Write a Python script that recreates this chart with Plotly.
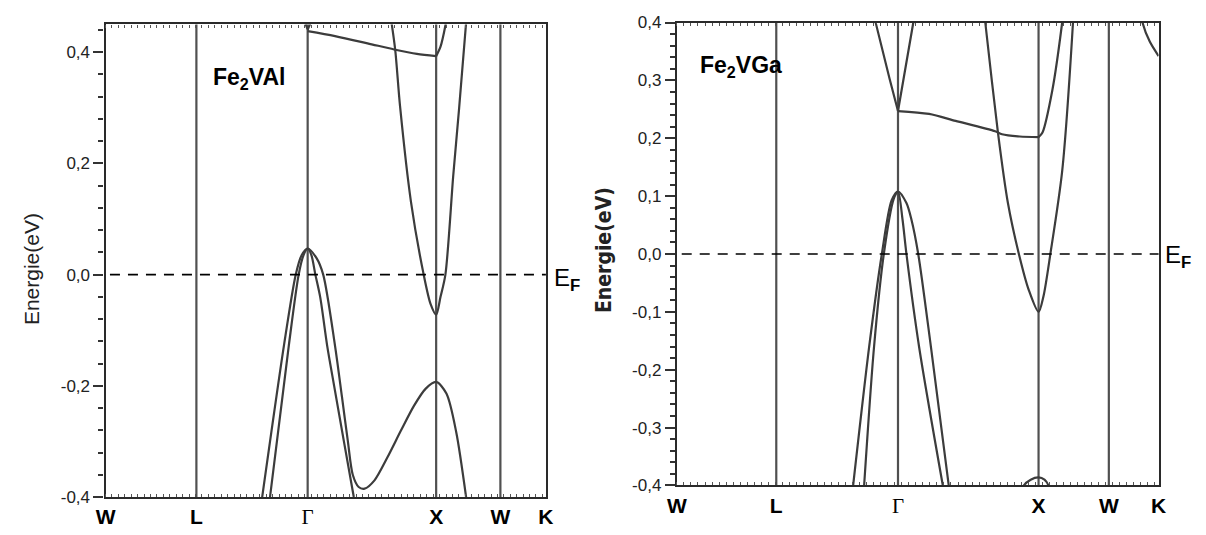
import plotly.graph_objects as go

# ---------------- k-path (high-symmetry points) ----------------
K_TICKS = [0.0, 0.707, 1.573, 2.573, 3.073, 3.427]
K_LABELS = ["<b>W</b>", "<b>L</b>",
            "<span style='font-family:Liberation Serif, Times New Roman, serif;font-weight:normal'>Γ</span>",
            "<b>X</b>", "<b>W</b>", "<b>K</b>"]
VLINES = [0.707, 1.573, 2.573, 3.073]

# ---------------- Fe2VAl bands (k, E in eV) ----------------
AL_V1_K = [1.219, 1.388, 1.480, 1.526, 1.573, 1.641, 1.694, 1.786, 1.840, 1.886, 1.924,
           1.970, 2.016, 2.093, 2.193, 2.300, 2.400, 2.492, 2.573, 2.653, 2.729, 2.806]
AL_V1_E = [-0.40, -0.128, 0.0, 0.035, 0.047, 0.030, 0.0, -0.128, -0.22, -0.30, -0.36,
           -0.382, -0.385, -0.37, -0.329, -0.28, -0.236, -0.205, -0.193, -0.214, -0.283, -0.40]
AL_V2_K = [1.280, 1.426, 1.503, 1.541, 1.573, 1.602, 1.633, 1.671, 1.725, 1.779, 1.855, 1.932]
AL_V2_E = [-0.40, -0.128, 0.0, 0.035, 0.047, 0.035, 0.0, -0.041, -0.128, -0.20, -0.30, -0.40]
AL_C1_K = [2.215, 2.254, 2.292, 2.377, 2.476, 2.530, 2.573, 2.607, 2.645, 2.706, 2.752, 2.812]
AL_C1_E = [0.47, 0.405, 0.303, 0.131, 0.0, -0.053, -0.072, -0.04, 0.0, 0.178, 0.30, 0.47]
AL_C2_K = [1.573, 1.786, 2.039, 2.246, 2.423, 2.573]
AL_C2_E = [0.438, 0.429, 0.416, 0.405, 0.397, 0.393]
AL_C3_K = [2.573, 2.607, 2.645, 2.660]
AL_C3_E = [0.393, 0.41, 0.448, 0.47]
AL_C4_K = [1.541, 1.573, 1.610]
AL_C4_E = [0.46, 0.441, 0.46]

# ---------------- Fe2VGa bands (k, E in eV) ----------------
GA_V1_K = [1.254, 1.367, 1.458, 1.528, 1.573, 1.633, 1.668, 1.717, 1.808, 1.934]
GA_V1_E = [-0.40, -0.162, 0.0, 0.093, 0.108, 0.088, 0.06, 0.0, -0.162, -0.40]
GA_V2_K = [1.332, 1.402, 1.472, 1.542, 1.573, 1.605, 1.633, 1.724, 1.892]
GA_V2_E = [-0.40, -0.162, 0.0, 0.095, 0.108, 0.06, 0.0, -0.162, -0.40]
GA_C1_K = [1.409, 1.416, 1.514, 1.573, 1.682, 1.690]
GA_C1_E = [0.42, 0.398, 0.302, 0.247, 0.40, 0.42]
GA_C2_K = [1.573, 1.794, 1.983, 2.264, 2.313, 2.439, 2.573]
GA_C2_E = [0.247, 0.242, 0.230, 0.212, 0.207, 0.203, 0.202]
GA_C3_K = [2.573, 2.601, 2.671, 2.741, 2.750]
GA_C3_E = [0.202, 0.21, 0.283, 0.40, 0.42]
GA_C4_K = [2.185, 2.194, 2.285, 2.355, 2.433, 2.503, 2.573, 2.608, 2.657, 2.741, 2.818, 2.822]
GA_C4_E = [0.42, 0.40, 0.208, 0.088, 0.0, -0.062, -0.10, -0.073, 0.0, 0.143, 0.40, 0.42]
GA_V3_K = [2.450, 2.468, 2.517, 2.573, 2.615, 2.643, 2.650]
GA_V3_E = [-0.42, -0.40, -0.39, -0.386, -0.39, -0.40, -0.42]
GA_C5_K = [3.301, 3.315, 3.364, 3.427]
GA_C5_E = [0.42, 0.398, 0.367, 0.342]

AL_YTICKS = [-0.4, -0.2, 0.0, 0.2, 0.4]
AL_YTEXT = ["-0,4", "-0,2", "0,0", "0,2", "0,4"]
GA_YTICKS = [-0.4, -0.3, -0.2, -0.1, 0.0, 0.1, 0.2, 0.3, 0.4]
GA_YTEXT = ["-0,4", "-0,3", "-0,2", "-0,1", "0,0", "0,1", "0,2", "0,3", "0,4"]

BAND_COLOR = "#3c3c3c"
FONT = "Arial, Liberation Sans, sans-serif"

fig = go.Figure()

def band(k, e, xa, ya, shape="spline"):
    fig.add_trace(go.Scatter(x=k, y=e, mode="lines", xaxis=xa, yaxis=ya,
                             line=dict(color=BAND_COLOR, width=2.2, shape=shape, smoothing=0.8),
                             showlegend=False, hoverinfo="skip"))

band(AL_V1_K, AL_V1_E, "x", "y")
band(AL_V2_K, AL_V2_E, "x", "y")
band(AL_C1_K, AL_C1_E, "x", "y")
band(AL_C2_K, AL_C2_E, "x", "y")
band(AL_C3_K, AL_C3_E, "x", "y")
band(AL_C4_K, AL_C4_E, "x", "y", "linear")

band(GA_V1_K, GA_V1_E, "x2", "y2")
band(GA_V2_K, GA_V2_E, "x2", "y2")
band(GA_C1_K, GA_C1_E, "x2", "y2", "linear")
band(GA_C2_K, GA_C2_E, "x2", "y2")
band(GA_C3_K, GA_C3_E, "x2", "y2")
band(GA_C4_K, GA_C4_E, "x2", "y2")
band(GA_V3_K, GA_V3_E, "x2", "y2")
band(GA_C5_K, GA_C5_E, "x2", "y2")

shapes = []
for xr, yr in (("x", "y"), ("x2", "y2")):
    for kv in VLINES:
        shapes.append(dict(type="line", xref=xr, yref=yr + " domain", x0=kv, x1=kv, y0=0, y1=1,
                           line=dict(color="#505050", width=2.2), layer="below"))
    shapes.append(dict(type="line", xref=xr + " domain", yref=yr, x0=0.01, x1=1, y0=0, y1=0,
                       line=dict(color="black", width=1.6, dash="10px,8px")))
fig.update_layout(shapes=shapes)

xcommon = dict(range=[0, 3.427], tickmode="array", tickvals=K_TICKS, ticktext=K_LABELS,
               ticks="", showgrid=False, zeroline=False, showline=True, linecolor="#2a2a2a",
               linewidth=2.2, mirror="allticks",
               minor=dict(ticks="inside", dtick=0.05, tick0=0, ticklen=3, tickcolor="#555",
                          showgrid=False),
               tickfont=dict(family=FONT, size=21, color="black"))
ycommon = dict(tickmode="array", showgrid=False, zeroline=False, showline=True,
               linecolor="#2a2a2a", linewidth=2.2, mirror=True, ticks="outside", ticklen=10,
               tickwidth=1.6, tickcolor="#333",
               tickfont=dict(family=FONT, size=17, color="#222"))

fig.update_layout(
    width=1206, height=535, margin=dict(l=0, r=0, t=0, b=0),
    paper_bgcolor="white", plot_bgcolor="white",
    xaxis=dict(domain=[97 / 1206, 544 / 1206], anchor="y", **xcommon),
    yaxis=dict(domain=[29 / 535, 519 / 535], anchor="x", range=[-0.4, 0.45],
               tickvals=AL_YTICKS, ticktext=AL_YTEXT,
               minor=dict(ticks="outside", dtick=0.04, tick0=0, ticklen=5, tickcolor="#333",
                          showgrid=False),
               **ycommon),
    xaxis2=dict(domain=[677 / 1206, 1166 / 1206], anchor="y2", **xcommon),
    yaxis2=dict(domain=[41 / 535, 521 / 535], anchor="x2", range=[-0.4, 0.4],
                tickvals=GA_YTICKS, ticktext=GA_YTEXT,
                minor=dict(ticks="outside", dtick=0.02, tick0=0, ticklen=5, tickcolor="#333",
                           showgrid=False),
                **ycommon),
)

ann = [
    dict(text="Energie(eV)", x=22 / 1206, y=(535 - 270) / 535, textangle=-90,
         font=dict(family=FONT, size=21, color="#222")),
    dict(text="<b>Energie(eV)</b>", x=603 / 1206, y=(535 - 250) / 535, textangle=-90,
         font=dict(family="Liberation Sans Narrow, DejaVu Sans Condensed, Arial Narrow, sans-serif",
                   size=21, color="#222")),
    dict(text="<b>Fe<sub>2</sub>VAl</b>", x=243 / 1206, y=(535 - 55) / 535,
         font=dict(family=FONT, size=23, color="black")),
    dict(text="<b>Fe<sub>2</sub>VGa</b>", x=742 / 1206, y=(535 - 42) / 535,
         font=dict(family=FONT, size=23, color="black")),
    dict(text="E<sub><b>F</b></sub>", x=550 / 1206, y=(535 - 280) / 535, xanchor="left",
         font=dict(family=FONT, size=24, color="black")),
    dict(text="E<sub><b>F</b></sub>", x=1170 / 1206, y=(535 - 257) / 535, xanchor="left",
         font=dict(family=FONT, size=24, color="black")),
]
for a in ann:
    a.update(xref="paper", yref="paper", showarrow=False)
    a.setdefault("xanchor", "center")
fig.update_layout(annotations=ann)

fig.write_html("out.html")
